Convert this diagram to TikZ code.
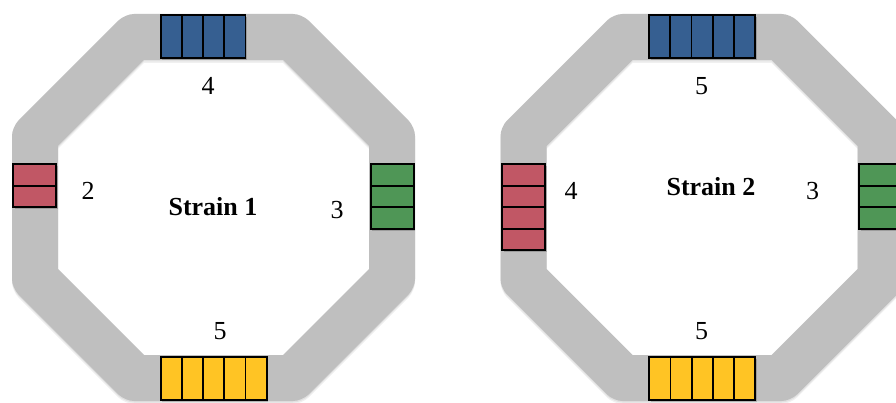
\documentclass[tikz,border=0pt]{standalone}
\usepackage{fontspec}
\setmainfont{Liberation Serif}
\definecolor{bandgray}{RGB}{191,191,191}
\definecolor{blueC}{RGB}{54,95,145}
\definecolor{redC}{RGB}{193,87,101}
\definecolor{greenC}{RGB}{79,150,86}
\definecolor{yellowC}{RGB}{255,196,36}
\tikzset{
  cell/.style={draw=black, line width=1.8pt},
  num/.style={font=\fontsize{26}{30}\selectfont, inner sep=0pt},
  title/.style={font=\fontsize{26}{30}\selectfont\bfseries, inner sep=0pt},
  shade1/.style={fill=black, fill opacity=0.06},
}
\newcommand\bandshape{%
  [rounded corners=9pt] (125,14) -- (302,14) -- (415,127) -- (415,288) -- (302,401) -- (125,401) -- (12,288) -- (12,127) -- cycle
  [sharp corners] (144,60) -- (283,60) -- (369,146) -- (369,269) -- (283,355) -- (144,355) -- (58,269) -- (58,146) -- cycle}
% #1 x0, #2 y0, #3 n, #4 colour  (horizontal row of cells)
\newcommand\hrow[4]{%
  \fill[black, opacity=0.18] (#1+1.5,#2+2) rectangle ++(21.2*#3,43.3);
  \foreach \i in {1,...,#3} {\draw[cell, fill=#4] (#1+21.2*\i-21.2,#2) rectangle ++(21.2,43.3);}}
% vertical column of cells
\newcommand\vcol[4]{%
  \fill[black, opacity=0.18] (#1+1.5,#2+2) rectangle ++(43,21.5*#3);
  \foreach \i in {1,...,#3} {\draw[cell, fill=#4] (#1,#2+21.5*\i-21.5) rectangle ++(43,21.5);}}
\begin{document}
\begin{tikzpicture}[x=1pt,y=-1pt]
\useasboundingbox (0,0) rectangle (896,403);
\clip (0,0) rectangle (896,403);
\fill[white] (0,0) rectangle (896,403);
% ---------- Strain 1 ----------
\begin{scope}
  \begin{scope}[yshift=-3pt]\fill[shade1, even odd rule] \bandshape;\end{scope}
  \begin{scope}[yshift=-1.5pt]\fill[shade1, even odd rule] \bandshape;\end{scope}
  \fill[bandgray, even odd rule] \bandshape;
  \hrow{160.7}{15}{4}{blueC}
  \vcol{13.3}{164.3}{2}{redC}
  \vcol{370.7}{164.3}{3}{greenC}
  \hrow{160.7}{356.7}{5}{yellowC}
\end{scope}
\node[num] (s1top) at (208,86) {4};
\node[num] (s1left) at (88,191) {2};
\node[title] (s1name) at (213,207) {Strain 1};
\node[num] (s1right) at (337,210) {3};
\node[num] (s1bot) at (220,331) {5};
% ---------- Strain 2 ----------
\begin{scope}[xshift=488.5pt]
  \begin{scope}[yshift=-3pt]\fill[shade1, even odd rule] \bandshape;\end{scope}
  \begin{scope}[yshift=-1.5pt]\fill[shade1, even odd rule] \bandshape;\end{scope}
  \fill[bandgray, even odd rule] \bandshape;
  \hrow{160.5}{15}{5}{blueC}
  \vcol{13.8}{164.3}{4}{redC}
  \vcol{370.7}{164.3}{3}{greenC}
  \hrow{160.8}{356.7}{5}{yellowC}
\end{scope}
\node[num] (s2top) at (701.7,86) {5};
\node[num] (s2left) at (571,191) {4};
\node[title] (s2name) at (711,186.7) {Strain 2};
\node[num] (s2right) at (812.7,191) {3};
\node[num] (s2bot) at (701.7,331) {5};
\end{tikzpicture}
\end{document}
